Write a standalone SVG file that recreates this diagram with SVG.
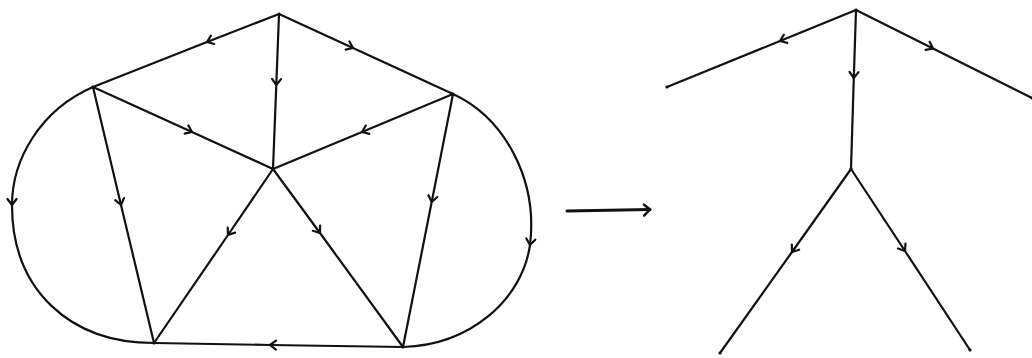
<svg xmlns="http://www.w3.org/2000/svg" width="1032" height="358" viewBox="0 0 1032 358">
<defs>
<style>
.e{fill:none;stroke:#111;stroke-width:2.2;stroke-linecap:round;stroke-linejoin:round;marker-mid:url(#chev)}
.v{fill:#111}
.big{fill:none;stroke:#111;stroke-width:3;stroke-linecap:round;marker-end:url(#chev2)}
</style>
<marker id="chev" markerUnits="userSpaceOnUse" orient="auto" refX="0" refY="0" markerWidth="20" markerHeight="20" viewBox="-10 -10 20 20" overflow="visible">
<path d="M-6,-4.5 L0,0 L-6,4.5" fill="none" stroke="#111" stroke-width="2.2" stroke-linecap="round" stroke-linejoin="round"/>
</marker>
<marker id="chev2" markerUnits="userSpaceOnUse" orient="auto" refX="0" refY="0" markerWidth="20" markerHeight="20" viewBox="-10 -10 20 20" overflow="visible">
<path d="M-6,-5 L0,0 L-6,6" fill="none" stroke="#111" stroke-width="2.5" stroke-linecap="round" stroke-linejoin="round"/>
</marker>
</defs>
<rect width="1032" height="358" fill="#fff"/>
<g id="connectors">
<path class="e" d="M279,14 L207,42 L93,87"/>
<path class="e" d="M279,14 L353,48 L453,94"/>
<path class="e" d="M279,14 L276.3,85 L273,169"/>
<path class="e" d="M93,87 L192,132 L273,169"/>
<path class="e" d="M453,94 L362,132 L273,169"/>
<path class="e" d="M93,87 L121,205 L154,343"/>
<path class="e" d="M273,169 L228,235 L154,343"/>
<path class="e" d="M273,169 L320,233 L403,347"/>
<path class="e" d="M453,94 L431.7,202 L403,347"/>
<path class="e" d="M403,347 L270,345 L154,343"/>
<path class="e" d="M93,87 C40,110 12,160 12,205 C12,290 70,343 154,343"/>
<path class="e" d="M453,94 C505,118 538,180 530,245 C522,300 470,345 403,347"/>
<path class="big" d="M567,211 L650,209.5"/>
<path class="e" d="M856,10 L780,41 L667,87"/>
<path class="e" d="M856,10 L933,48.5 L1032,98"/>
<path class="e" d="M856,10 L853.8,78 L851,169"/>
<path class="e" d="M851,169 L792,252 L720,353"/>
<path class="e" d="M851,169 L905,251 L970,350"/>
</g>
<g id="n-top"><circle class="v" cx="279" cy="14" r="1.6"/></g>
<g id="n-left"><circle class="v" cx="93" cy="87" r="1.6"/></g>
<g id="n-right"><circle class="v" cx="453" cy="94" r="1.6"/></g>
<g id="n-center"><circle class="v" cx="273" cy="169" r="1.6"/></g>
<g id="n-bottomleft"><circle class="v" cx="154" cy="343" r="1.6"/></g>
<g id="n-bottomright"><circle class="v" cx="403" cy="347" r="1.6"/></g>
<g id="t-top"><circle class="v" cx="856" cy="10" r="1.6"/></g>
<g id="t-left"><circle class="v" cx="667" cy="87" r="1.6"/></g>
<g id="t-right"><circle class="v" cx="1032" cy="98" r="1.6"/></g>
<g id="t-center"><circle class="v" cx="851" cy="169" r="1.6"/></g>
<g id="t-bottomleft"><circle class="v" cx="720" cy="353" r="1.6"/></g>
<g id="t-bottomright"><circle class="v" cx="970" cy="350" r="1.6"/></g>
</svg>
